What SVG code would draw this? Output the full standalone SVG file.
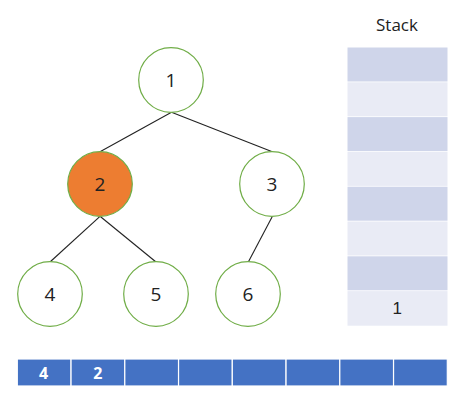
<svg xmlns="http://www.w3.org/2000/svg" width="466" height="398" viewBox="0 0 466 398">
<style>
.node circle{fill:#fff;stroke:#70AD47;stroke-width:1.2}
.node.active circle{fill:#ED7D31}
.lbl{font-family:"Open Sans","Noto Sans","Liberation Sans",sans-serif;font-size:19px;fill:#222;text-anchor:middle}
.edge{stroke:#222;stroke-width:1.1;fill:none}
.sd{fill:#CFD5EA}
.sl{fill:#E9EBF5}
.arr rect{fill:#4472C4;stroke:#fff;stroke-width:1.2}
.arrt{font-family:"Open Sans","Noto Sans","Liberation Sans",sans-serif;font-size:16px;font-weight:bold;fill:#fff;text-anchor:middle}
</style>
<rect width="466" height="398" fill="#fff"/>
<g id="connectors">
<line class="edge" x1="171.5" y1="112.3" x2="100" y2="151.7"/>
<line class="edge" x1="171.5" y1="112.3" x2="272.3" y2="151.7"/>
<line class="edge" x1="100" y1="216.3" x2="50" y2="262"/>
<line class="edge" x1="100" y1="216.3" x2="156" y2="262"/>
<line class="edge" x1="272.3" y1="216.5" x2="248.3" y2="262"/>
</g>
<g id="node1" class="node"><circle cx="171" cy="80" r="32.3"/><text class="lbl" x="171" y="87">1</text></g>
<g id="node2" class="node active"><circle cx="100" cy="184" r="32.3"/><text class="lbl" x="100" y="191">2</text></g>
<g id="node3" class="node"><circle cx="272" cy="184" r="32.3"/><text class="lbl" x="272" y="191">3</text></g>
<g id="node4" class="node"><circle cx="50" cy="294" r="32.3"/><text class="lbl" x="50" y="301">4</text></g>
<g id="node5" class="node"><circle cx="156" cy="294" r="32.3"/><text class="lbl" x="156" y="301">5</text></g>
<g id="node6" class="node"><circle cx="248" cy="294" r="32.3"/><text class="lbl" x="248" y="301">6</text></g>
<g id="stack">
<text x="397" y="31" font-family="'Open Sans','Noto Sans','Liberation Sans',sans-serif" font-size="17" fill="#222" text-anchor="middle">Stack</text>
<rect class="sd" x="347.5" y="47.5" width="100" height="34"/>
<rect class="sl" x="347.5" y="82.3" width="100" height="34"/>
<rect class="sd" x="347.5" y="117.1" width="100" height="34"/>
<rect class="sl" x="347.5" y="151.9" width="100" height="34"/>
<rect class="sd" x="347.5" y="186.7" width="100" height="34"/>
<rect class="sl" x="347.5" y="221.5" width="100" height="34"/>
<rect class="sd" x="347.5" y="256.3" width="100" height="34"/>
<rect class="sl" x="347.5" y="291.1" width="100" height="34.6"/>
<text x="397.3" y="314" font-family="'Liberation Sans',Arial,sans-serif" font-size="17" fill="#222" text-anchor="middle">1</text>
</g>
<g id="array" class="arr">
<rect x="17.3" y="359" width="53.75" height="27"/>
<rect x="71.05" y="359" width="53.75" height="27"/>
<rect x="124.8" y="359" width="53.75" height="27"/>
<rect x="178.55" y="359" width="53.75" height="27"/>
<rect x="232.3" y="359" width="53.75" height="27"/>
<rect x="286.05" y="359" width="53.75" height="27"/>
<rect x="339.8" y="359" width="53.75" height="27"/>
<rect x="393.55" y="359" width="53.75" height="27"/>
<text class="arrt" x="43.5" y="379">4</text>
<text class="arrt" x="97.8" y="379">2</text>
</g>
</svg>
